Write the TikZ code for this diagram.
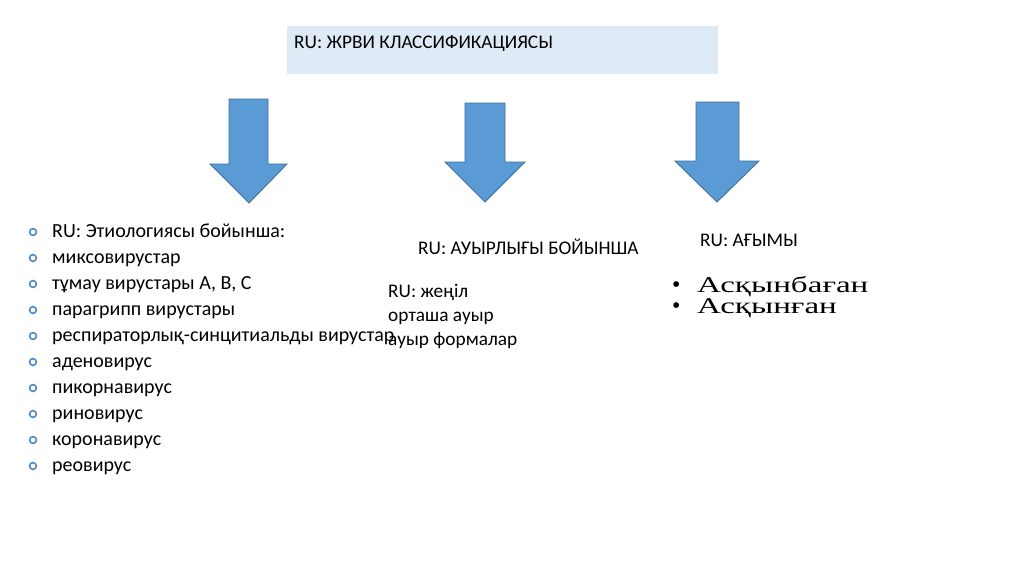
\documentclass[tikz,border=0pt]{standalone}
\usepackage{fontspec}
\setmainfont{Carlito}
\newfontfamily\serifru{Liberation Serif}
\definecolor{boxfill}{HTML}{DEEAF6}
\definecolor{arrfill}{HTML}{5B9BD5}
\definecolor{arrline}{HTML}{41719C}
\definecolor{ringcol}{HTML}{4F8BC9}
\newcommand{\widetxt}[1]{\scalebox{1.47}[1]{#1}}
\begin{document}
\begin{tikzpicture}[x=1pt,y=-1pt,
  txt/.style={anchor=base west,inner sep=0pt,font=\fontsize{19.3}{19.3}\selectfont},
  listtxt/.style={anchor=base west,inner sep=0pt,font=\fontsize{20}{20}\selectfont},
  srf/.style={anchor=base west,inner sep=0pt,font=\serifru\fontsize{22.5}{22.5}\selectfont,text=black},
  blockarrow/.style={fill=arrfill,draw=arrline,line width=0.9pt,line join=miter},
  ring/.style={draw=ringcol,line width=1.6pt}]
\useasboundingbox (0,0) rectangle (1024,574);
\fill[white] (0,0) rectangle (1024,574);
% title box
\fill[boxfill] (287,26) rectangle (718,74);
\node[txt] (title) at (294,48) {RU: ЖРВИ КЛАССИФИКАЦИЯСЫ};
% block arrows
\draw[blockarrow] (229,99) -- (268,99) -- (268,164) -- (287,164) -- (249,203) -- (210,164) -- (229,164) -- cycle;
\draw[blockarrow] (465,103) -- (505,103) -- (505,162) -- (525,162) -- (485,202) -- (445,162) -- (465,162) -- cycle;
\draw[blockarrow] (696,102) -- (739,102) -- (739,161) -- (759,161) -- (717,202) -- (675,161) -- (696,161) -- cycle;
% left list
\foreach \t [count=\i from 0] in {RU: Этиологиясы бойынша:,миксовирустар,{тұмау вирустары А, В, С},парагрипп вирустары,респираторлық-синцитиальды вирустар,аденовирус,пикорнавирус,риновирус,коронавирус,реовирус}{
  \draw[ring] (33,{232+26*\i}) circle (3.4);
  \node[listtxt] (l\i) at (52,{237.5+26*\i}) {\t};
}
% middle
\node[txt] (sev) at (418,254) {RU: АУЫРЛЫҒЫ БОЙЫНША};
\node[txt] (m1) at (388,297) {RU: жеңіл};
\node[txt] (m2) at (388,321) {орташа ауыр};
\node[txt] (m3) at (388,345) {ауыр формалар};
% right
\node[txt] (course) at (700,246) {RU: АҒЫМЫ};
\node[srf] (r1) at (672,292) {\makebox[25pt][l]{{\fontsize{24}{24}\selectfont•}}\widetxt{Асқынбаған}};
\node[srf] (r2) at (672,313) {\makebox[25pt][l]{{\fontsize{24}{24}\selectfont•}}\widetxt{Асқынған}};
\end{tikzpicture}
\end{document}
